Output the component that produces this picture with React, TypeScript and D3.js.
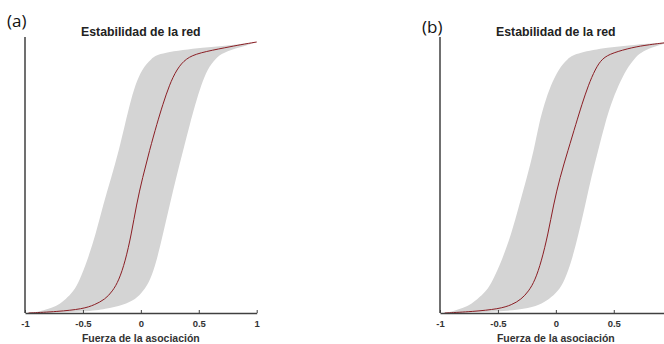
import React, { useEffect, useRef } from "react";
import * as d3 from "d3";

// cumulative level (y) shared by both panels
const levels = [0, 0.005, 0.015, 0.03, 0.05, 0.08, 0.12, 0.19, 0.29, 0.4, 0.5, 0.6, 0.7, 0.77, 0.84, 0.9, 0.94, 0.96, 0.98, 0.99, 1.0];

// panel (a): association strength per level
const medianA = [-0.97, -0.72, -0.5, -0.4, -0.31, -0.245, -0.19, -0.135, -0.082, -0.038, 0.015, 0.075, 0.14, 0.19, 0.245, 0.31, 0.39, 0.5, 0.74, 0.86, 1.0];
const lowerA = [-0.97, -0.88, -0.8, -0.71, -0.65, -0.58, -0.53, -0.465, -0.39, -0.325, -0.255, -0.19, -0.135, -0.095, -0.05, 0.01, 0.09, 0.17, 0.55, 0.82, 1.0];
const upperA = [-0.97, -0.45, -0.31, -0.15, -0.045, 0.02, 0.08, 0.135, 0.19, 0.25, 0.305, 0.365, 0.425, 0.47, 0.52, 0.575, 0.645, 0.71, 0.85, 0.93, 1.0];

// panel (b)
const medianB = [-0.96, -0.72, -0.49, -0.38, -0.3, -0.235, -0.18, -0.125, -0.068, -0.02, 0.035, 0.105, 0.175, 0.225, 0.28, 0.34, 0.4, 0.49, 0.66, 0.8, 1.0];
const lowerB = [-0.96, -0.9, -0.83, -0.74, -0.68, -0.6, -0.545, -0.47, -0.385, -0.315, -0.25, -0.19, -0.145, -0.1, -0.045, 0.025, 0.1, 0.19, 0.45, 0.68, 1.0];
const upperB = [-0.96, -0.47, -0.27, -0.14, -0.06, 0.02, 0.075, 0.135, 0.195, 0.255, 0.305, 0.365, 0.425, 0.475, 0.54, 0.61, 0.68, 0.73, 0.83, 0.9, 1.0];

const xTicks = [-1, -0.5, 0, 0.5, 1];
const tickLabels = ["-1", "-0.5", "0", "0.5", "1"];

const title = "Estabilidad de la red";
const xLabel = "Fuerza de la asociación";

const panels = [
  { tag: "(a)", median: medianA, lower: lowerA, upper: upperA, offset: 0, tagY: 27 },
  { tag: "(b)", median: medianB, lower: lowerB, upper: upperB, offset: 415, tagY: 33 },
];

const width = 664;
const height = 344;
const font = "'Liberation Sans', Arial, sans-serif";

const App = () => {
  const svgRef = useRef<SVGSVGElement>(null);

  useEffect(() => {
    const svg = d3.select(svgRef.current);
    svg.selectAll("*").remove();

    const y = d3.scaleLinear().domain([0, 1]).range([313, 42]);

    panels.forEach((p) => {
      const x = d3
        .scaleLinear()
        .domain([-1, 1])
        .range([25 + p.offset, 256.7 + p.offset]);

      const g = svg.append("g");
      const rows = levels.map((lv, i) => ({
        lv,
        m: p.median[i],
        lo: p.lower[i],
        hi: p.upper[i],
      }));

      // confidence band
      const area = d3
        .area<any>()
        .y((d) => y(d.lv))
        .x0((d) => x(d.lo))
        .x1((d) => x(d.hi))
        .curve(d3.curveBasis);

      g.append("path")
        .datum(rows)
        .attr("fill", "#d4d4d4")
        .attr("d", area);

      // median line
      const line = d3
        .line<any>()
        .y((d) => y(d.lv))
        .x((d) => x(d.m))
        .curve(d3.curveBasis);

      g.append("path")
        .datum(rows)
        .attr("fill", "none")
        .attr("stroke", "#8b1e24")
        .attr("stroke-width", 1)
        .attr("d", line);

      // axes (labels past the page edge are not drawn)
      const shown = xTicks.filter((v) => x(v) < width);
      const xAxis = g
        .append("g")
        .attr("transform", `translate(0,${y(0)})`)
        .call(
          d3
            .axisBottom(x)
            .tickValues(shown)
            .tickFormat((v) => tickLabels[xTicks.indexOf(+v)])
            .tickSizeInner(-3)
            .tickSizeOuter(0)
            .tickPadding(7)
        );
      xAxis.select(".domain").attr("stroke", "#404040").attr("stroke-width", 1.5);
      xAxis.selectAll("line").attr("stroke", "#404040");
      xAxis
        .selectAll("text")
        .attr("fill", "#333")
        .style("font-family", font)
        .style("font-size", "9.5px")
        .style("font-weight", "bold");

      g.append("line")
        .attr("x1", x(-1))
        .attr("x2", x(-1))
        .attr("y1", 37)
        .attr("y2", y(0))
        .attr("stroke", "#404040")
        .attr("stroke-width", 1.5);

      // texts
      g.append("text")
        .attr("x", x(0))
        .attr("y", 36)
        .attr("text-anchor", "middle")
        .style("font-family", font)
        .style("font-size", "12.3px")
        .style("font-weight", "bold")
        .attr("fill", "#222")
        .text(title);

      g.append("text")
        .attr("x", x(0))
        .attr("y", 341.5)
        .attr("text-anchor", "middle")
        .style("font-family", font)
        .style("font-size", "10.5px")
        .style("font-weight", "bold")
        .attr("fill", "#333")
        .text(xLabel);

      g.append("text")
        .attr("x", 7 + p.offset)
        .attr("y", p.tagY)
        .style("font-family", "'Open Sans', sans-serif")
        .style("font-size", "17px")
        .attr("fill", "#111")
        .text(p.tag);
    });
  }, []);

  return (
    <svg
      ref={svgRef}
      width={width}
      height={height}
      style={{ position: "absolute", left: 0, top: 0, background: "#fff" }}
    ></svg>
  );
};

export default App;
